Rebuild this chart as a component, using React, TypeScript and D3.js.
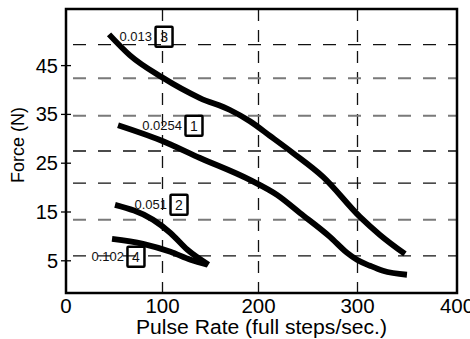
import React from "react";
import * as d3 from "d3";

const xTicks = [0, 100, 200, 300, 400];
const yTicks = [5, 15, 25, 35, 45];
const gridX = [100, 200, 300];
const gridYBlack = [49.3, 27.5, 20.9, 6.0];
const gridYGray = [42.4, 34.7, 13.4];

// Curve data: [pulse rate, force]
const curve3 = [[44.6, 51.4], [66.3, 47.1], [99.5, 42.6], [139, 38.35], [170.3, 35.9], [191.1, 33.6], [211.6, 30.6], [234.8, 27.1], [265.2, 22.2], [302.5, 14.0], [322.6, 10.3], [347.7, 6.4]];
const curve1 = [[53.9, 32.8], [97.4, 29.76], [139.1, 26.07], [191.1, 21.57], [218.7, 18.5], [241.9, 14.8], [272.2, 9.9], [289.4, 6.64], [299.5, 5.2], [312.6, 3.98], [325.6, 2.95], [349.7, 2.14]];
const curve2 = [[50.8, 16.46], [90.2, 13.4], [108.3, 10.7], [126.0, 7.25], [147.9, 4.2]];
const curve4 = [[47.7, 9.5], [79.8, 8.48], [108.3, 6.84], [129.2, 5.2], [146.9, 4.18]];
const curves = [curve3, curve1, curve2, curve4];

const labelText = ["0.013", "0.0254", "0.051", "0.102"];
const labelNum = ["3", "1", "2", "4"];
const labelX = [101.6, 132.8, 117.2, 72.5];
const labelY = [50.9, 32.7, 16.46, 5.82];

const W = 470, H = 339;
const font = "'Liberation Sans', Arial, Helvetica, sans-serif";

export default function App() {
  const x = d3.scaleLinear().domain(xTicks).range([66, 162.5, 258.5, 357.5, 457]);
  const y = d3.scaleLinear().domain([-1.6, 56.6]).range([293, 9]);
  const line = d3.line<number[]>().x(d => x(d[0])).y(d => y(d[1])).curve(d3.curveMonotoneX);
  const x0 = x(0), x1 = x(400), yTop = y(56.6), yBot = y(-1.6);

  return (
    <svg width={W} height={H} style={{ position: "absolute", left: 0, top: 0, background: "#fff" }} fontFamily={font}>
      {gridX.map(v => (
        <line key={"gx" + v} x1={x(v)} x2={x(v)} y1={yTop} y2={yBot} stroke="#111" strokeWidth={1.3} strokeDasharray="12,9" />
      ))}
      {gridYBlack.map(v => (
        <line key={"gyb" + v} x1={x0 + 7} x2={x1} y1={y(v)} y2={y(v)} stroke="#111" strokeWidth={1.3} strokeDasharray="13,12" />
      ))}
      {gridYGray.map(v => (
        <line key={"gyg" + v} x1={x0 + 7} x2={x1} y1={y(v)} y2={y(v)} stroke="#7a7a7a" strokeWidth={2} strokeDasharray="13,12" />
      ))}
      {curves.map((c, i) => (
        <path key={"c" + i} d={line(c as number[][]) || ""} fill="none" stroke="#000" strokeWidth={5.8} />
      ))}
      {labelText.map((t, i) => {
        const cx = x(labelX[i]), cy = y(labelY[i]);
        return (
          <g key={"lb" + i}>
            <text x={cx - 12} y={cy + 4.5} fontSize={13} textAnchor="end" fill="#111">{t}</text>
            <rect x={cx - 8.5} y={cy - 10} width={17} height={20} fill="none" stroke="#000" strokeWidth={2.5} rx={1} />
            <text x={cx} y={cy + 5} fontSize={14} textAnchor="middle" fill="#111">{labelNum[i]}</text>
          </g>
        );
      })}
      <rect x={x0} y={yTop} width={x1 - x0} height={yBot - yTop} fill="none" stroke="#000" strokeWidth={2.5} />
      {yTicks.map(v => (
        <g key={"yt" + v}>
          <line x1={x0 - 5} x2={x0 + 5} y1={y(v)} y2={y(v)} stroke="#000" strokeWidth={1.3} />
          <text x={x0 - 8} y={y(v) + 7} fontSize={20} textAnchor="end" fill="#000">{v}</text>
        </g>
      ))}
      {xTicks.map(v => (
        <text key={"xt" + v} x={x(v)} y={313} fontSize={20.5} textAnchor="middle" fill="#000">{v}</text>
      ))}
      <text x={(x0 + x1) / 2} y={334} fontSize={19.5} textAnchor="middle" textLength={251} lengthAdjust="spacingAndGlyphs" fill="#000">Pulse Rate (full steps/sec.)</text>
      <text transform={`translate(24,145) rotate(-90)`} fontSize={18} textAnchor="middle" fill="#000">Force (N)</text>
    </svg>
  );
}
